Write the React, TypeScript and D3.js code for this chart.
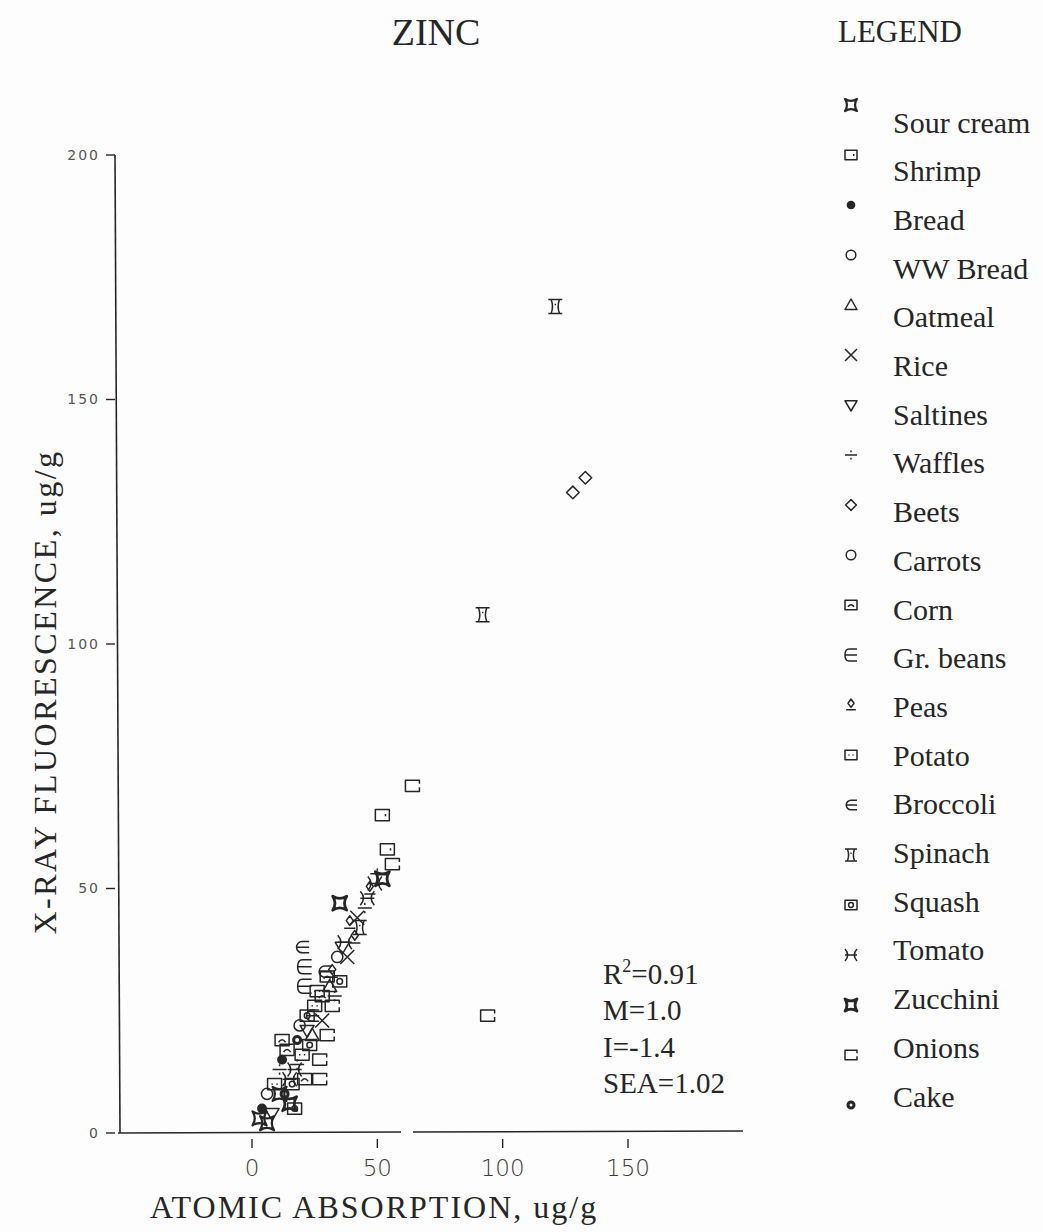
import * as d3 from "d3";

// legend order
const foods = [
  "Sour cream", "Shrimp", "Bread", "WW Bread", "Oatmeal", "Rice", "Saltines",
  "Waffles", "Beets", "Carrots", "Corn", "Gr. beans", "Peas", "Potato",
  "Broccoli", "Spinach", "Squash", "Tomato", "Zucchini", "Onions", "Cake",
];

// one entry per plotted point: food, atomic absorption (x), x-ray fluorescence (y)
const pointFood = [
  "Spinach", "Beets", "Beets", "Spinach", "Onions", "Onions", "Shrimp", "Shrimp",
  "Onions", "Zucchini", "Zucchini", "Peas", "Tomato", "Waffles", "Spinach", "Peas",
  "Tomato", "Broccoli", "Gr. beans", "Gr. beans", "Carrots", "Rice", "Peas", "Squash",
  "Oatmeal", "Corn", "Waffles", "Potato", "Broccoli", "Rice", "WW Bread", "Saltines",
  "Onions", "Cake", "Squash", "Corn", "Potato", "Onions", "Bread", "Tomato",
  "Waffles", "Corn", "Squash", "Onions", "Potato", "Carrots", "Sour cream", "Zucchini",
  "Squash", "Sour cream", "Sour cream", "Saltines", "Bread", "Cake",
  "Waffles", "Tomato", "Peas", "Rice", "Saltines", "Corn", "Potato", "Oatmeal",
  "Waffles", "Tomato", "Squash", "Onions", "Corn", "Broccoli",
];
const pointAA = [
  121, 128, 133, 92, 64, 94, 52, 54,
  56, 52, 35, 47, 49, 45, 43, 41,
  37, 20, 21, 21, 34, 38, 32, 35,
  31, 28, 33, 25, 24, 28, 19, 22,
  30, 18, 23, 14, 20, 27, 12, 17,
  11, 21, 16, 27, 9, 6, 11, 15,
  17, 3, 6, 8, 4, 13,
  50, 46, 39, 42, 36, 30, 26, 24,
  18, 15, 22, 32, 12, 29,
];
const pointXRF = [
  169, 131, 134, 106, 71, 24, 65, 58,
  55, 52, 47, 50, 51, 46, 42, 40,
  39, 38, 34, 30, 36, 36, 33, 31,
  30, 28, 28, 26, 24, 23, 22, 21,
  20, 19, 18, 17, 16, 15, 15, 13,
  13, 11, 10, 11, 10, 8, 8, 6,
  5, 3, 2, 4, 5, 8,
  53, 48, 43, 44, 38, 32, 29, 20,
  14, 11, 24, 26, 19, 33,
];

const xTicks = [0, 50, 100, 150];
const yTicks = [0, 50, 100, 150, 200];
const statLines = [
  { label: "R", sup: "2", rest: "=0.91" },
  { label: "M=1.0", sup: "", rest: "" },
  { label: "I=-1.4", sup: "", rest: "" },
  { label: "SEA=1.02", sup: "", rest: "" },
];

const foodShape: Record<string, string> = {
  "Sour cream": "bowtie", Shrimp: "squareDot", Bread: "dot", "WW Bread": "circle",
  Oatmeal: "triUp", Rice: "cross", Saltines: "triDown", Waffles: "divide",
  Beets: "diamond", Carrots: "circle", Corn: "squareArc", "Gr. beans": "ebar",
  Peas: "peas", Potato: "squareDots", Broccoli: "elem", Spinach: "xi",
  Squash: "squareRing", Tomato: "tomato", Zucchini: "bowtieBold", Onions: "openBox",
  Cake: "ring",
};

const ink = "#262626";

function markerPath(kind: string, r: number): string {
  const p = d3.path();
  switch (kind) {
    case "bowtie":
    case "bowtieBold":
      p.moveTo(-r, -r);
      p.quadraticCurveTo(0, -r * 0.35, r, -r);
      p.quadraticCurveTo(r * 0.35, 0, r, r);
      p.quadraticCurveTo(0, r * 0.35, -r, r);
      p.quadraticCurveTo(-r * 0.35, 0, -r, -r);
      p.closePath();
      break;
    case "squareDot":
      p.rect(-r, -r * 0.8, 2 * r, 1.6 * r);
      p.moveTo(r * 0.45, -r * 0.15);
      p.lineTo(r * 0.45, r * 0.15);
      break;
    case "dot":
      p.arc(0, 0, r * 0.6, 0, Math.PI * 2);
      break;
    case "circle":
      p.moveTo(r * 0.8, 0);
      p.arc(0, 0, r * 0.8, 0, Math.PI * 2);
      break;
    case "triUp":
      p.moveTo(0, -r);
      p.lineTo(r, r * 0.75);
      p.lineTo(-r, r * 0.75);
      p.closePath();
      break;
    case "cross":
      p.moveTo(-r, -r);
      p.lineTo(r, r);
      p.moveTo(r, -r);
      p.lineTo(-r, r);
      break;
    case "triDown":
      p.moveTo(-r, -r * 0.7);
      p.lineTo(r, -r * 0.7);
      p.lineTo(0, r);
      p.closePath();
      break;
    case "divide":
      p.moveTo(-r, 0);
      p.lineTo(r, 0);
      p.moveTo(0, -r * 0.75);
      p.lineTo(0, -r * 0.45);
      p.moveTo(0, r * 0.45);
      p.lineTo(0, r * 0.75);
      break;
    case "diamond":
      p.moveTo(0, -r * 0.9);
      p.lineTo(r * 0.9, 0);
      p.lineTo(0, r * 0.9);
      p.lineTo(-r * 0.9, 0);
      p.closePath();
      break;
    case "squareArc":
      p.rect(-r, -r * 0.8, 2 * r, 1.6 * r);
      p.moveTo(-r * 0.5, r * 0.3);
      p.quadraticCurveTo(0, -r * 0.4, r * 0.5, r * 0.3);
      break;
    case "ebar":
      p.moveTo(r, -r);
      p.lineTo(-r * 0.3, -r);
      p.quadraticCurveTo(-r, -r, -r, 0);
      p.quadraticCurveTo(-r, r, -r * 0.3, r);
      p.lineTo(r, r);
      p.moveTo(-r, 0);
      p.lineTo(r, 0);
      break;
    case "peas":
      p.moveTo(0, -r);
      p.lineTo(r * 0.5, -r * 0.3);
      p.lineTo(0, r * 0.4);
      p.lineTo(-r * 0.5, -r * 0.3);
      p.closePath();
      p.moveTo(-r * 0.8, r * 0.8);
      p.lineTo(r * 0.8, r * 0.8);
      break;
    case "squareDots":
      p.rect(-r, -r * 0.8, 2 * r, 1.6 * r);
      p.moveTo(-r * 0.35, -r * 0.1);
      p.lineTo(-r * 0.35, r * 0.1);
      p.moveTo(r * 0.35, -r * 0.1);
      p.lineTo(r * 0.35, r * 0.1);
      break;
    case "elem":
      p.moveTo(r, -r * 0.8);
      p.lineTo(0, -r * 0.8);
      p.arc(0, 0, r * 0.8, -Math.PI / 2, Math.PI / 2, true);
      p.lineTo(r, r * 0.8);
      p.moveTo(-r * 0.8, 0);
      p.lineTo(r, 0);
      break;
    case "xi":
      p.moveTo(-r, -r);
      p.lineTo(r, -r);
      p.moveTo(-r, r);
      p.lineTo(r, r);
      p.moveTo(-r * 0.6, -r);
      p.quadraticCurveTo(-r * 0.2, 0, -r * 0.6, r);
      p.moveTo(r * 0.6, -r);
      p.quadraticCurveTo(r * 0.2, 0, r * 0.6, r);
      p.moveTo(-r * 0.1, -r * 0.3);
      p.lineTo(r * 0.1, -r * 0.3);
      break;
    case "squareRing":
      p.rect(-r, -r * 0.8, 2 * r, 1.6 * r);
      p.moveTo(r * 0.4, 0);
      p.arc(0, 0, r * 0.4, 0, Math.PI * 2);
      break;
    case "tomato":
      p.moveTo(-r, -r);
      p.quadraticCurveTo(-r * 0.1, 0, -r, r);
      p.moveTo(r, -r);
      p.quadraticCurveTo(r * 0.1, 0, r, r);
      p.moveTo(-r, 0);
      p.lineTo(r, 0);
      break;
    case "openBox":
      p.moveTo(r, -r * 0.3);
      p.lineTo(r, -r * 0.8);
      p.lineTo(-r, -r * 0.8);
      p.lineTo(-r, r * 0.8);
      p.lineTo(r, r * 0.8);
      p.lineTo(r, r * 0.2);
      break;
    case "ring":
      p.moveTo(r * 0.5, 0);
      p.arc(0, 0, r * 0.5, 0, Math.PI * 2);
      break;
  }
  return p.toString();
}

function Marker({ kind, x, y, r }: { kind: string; x: number; y: number; r: number }) {
  const filled = kind === "dot";
  const sw = kind === "bowtieBold" ? 2.8 : kind === "ring" ? 3 : kind === "bowtie" ? 2.2 : 1.5;
  return (
    <path
      d={markerPath(kind, r)}
      transform={`translate(${x},${y})`}
      fill={filled ? ink : "none"}
      stroke={ink}
      strokeWidth={sw}
      strokeLinejoin="round"
    />
  );
}

export default function App() {
  const W = 1043;
  const H = 1232;
  const x = d3.scaleLinear().domain([0, 150]).range([252, 628]);
  const y = d3.scaleLinear().domain([0, 200]).range([1133, 155]);
  const axisLeftX = 118;
  const axisRightX = 743;

  return (
    <svg
      width={W}
      height={H}
      style={{ position: "absolute", left: 0, top: 0, background: "#fdfdfd" }}
      fontFamily="'Liberation Serif', 'Times New Roman', serif"
    >
      <rect width={W} height={H} fill="#fdfdfd" />
      <text x={436} y={45} fontSize={38} textAnchor="middle" fill={ink}>ZINC</text>

      {/* axes */}
      <line x1={axisLeftX - 3} y1={y(200)} x2={axisLeftX + 2} y2={y(0)} stroke={ink} strokeWidth={1.6} />
      <line x1={axisLeftX} y1={y(0)} x2={401} y2={y(0) - 1} stroke={ink} strokeWidth={1.6} />
      <line x1={413} y1={y(0) - 1} x2={axisRightX} y2={y(0) - 2} stroke={ink} strokeWidth={1.6} />

      {yTicks.map((t) => (
        <g key={t}>
          <line x1={axisLeftX - 12} x2={axisLeftX - 3} y1={y(t)} y2={y(t)} stroke={ink} strokeWidth={1.4} />
          <text
            x={axisLeftX - 18}
            y={y(t)}
            dy="0.35em"
            fontSize={14}
            textAnchor="end"
            fill="#555"
            fontFamily="'DejaVu Sans', sans-serif"
            letterSpacing={2}
          >
            {t}
          </text>
        </g>
      ))}
      {xTicks.map((t) => (
        <g key={t}>
          <line x1={x(t)} x2={x(t)} y1={y(0) + 6} y2={y(0) + 15} stroke={ink} strokeWidth={1.4} />
          <text
            x={x(t)}
            y={y(0) + 43}
            fontSize={23}
            textAnchor="middle"
            fill="#3a3a3a"
            fontFamily="'DejaVu Sans', sans-serif"
            fontWeight={300}
          >
            {t}
          </text>
        </g>
      ))}

      <text x={150} y={1218} fontSize={32} letterSpacing={2} fill={ink}>
        ATOMIC ABSORPTION, ug/g
      </text>
      <text
        transform={`translate(56, 692) rotate(-90)`}
        fontSize={32}
        letterSpacing={2.5}
        textAnchor="middle"
        fill={ink}
      >
        X-RAY FLUORESCENCE, ug/g
      </text>

      {/* points */}
      {pointFood.map((f, i) => (
        <Marker key={i} kind={foodShape[f]} x={x(pointAA[i])} y={y(pointXRF[i])} r={7} />
      ))}

      {/* fit statistics */}
      {statLines.map((s, i) => (
        <text key={i} x={603} y={984 + i * 36.3} fontSize={29} fill={ink}>
          {s.label}
          {s.sup && (
            <tspan fontSize={18} dy={-12}>{s.sup}</tspan>
          )}
          {s.rest && <tspan dy={s.sup ? 12 : 0}>{s.rest}</tspan>}
        </text>
      ))}

      {/* legend */}
      <text x={838} y={42} fontSize={31} fill={ink}>LEGEND</text>
      {foods.map((f, i) => (
        <g key={f}>
          <Marker kind={foodShape[f]} x={851} y={105 + i * 50} r={6} />
          <text x={893} y={122 + i * 48.7} dy="0.35em" fontSize={30} fill={ink}>
            {f}
          </text>
        </g>
      ))}
    </svg>
  );
}
